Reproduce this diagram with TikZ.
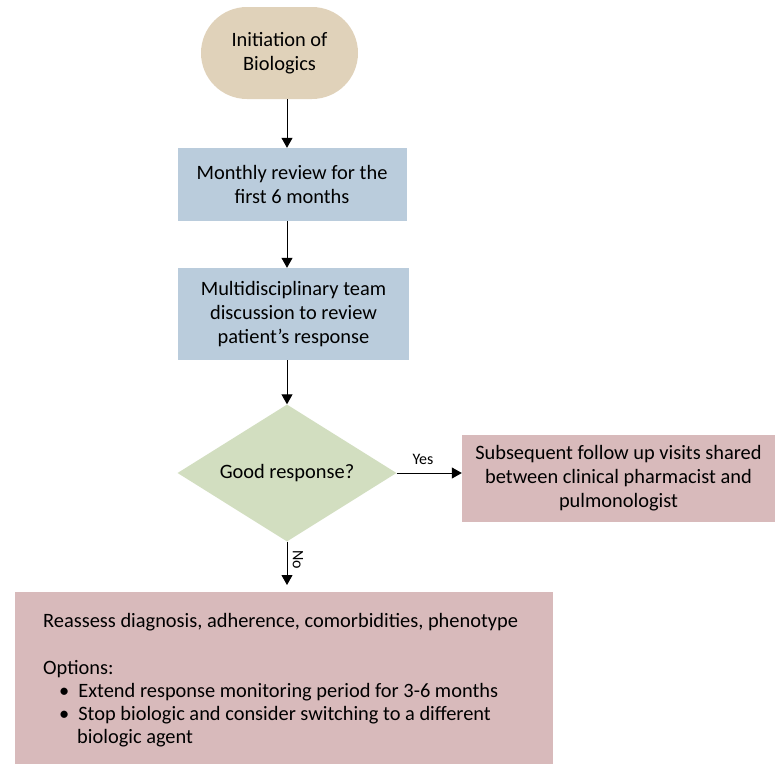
\documentclass[tikz,border=0pt]{standalone}
\usepackage{fontspec}
\setmainfont{Carlito}
\usetikzlibrary{shapes.geometric,arrows.meta,calc}
\definecolor{tanfill}{RGB}{224,210,186}
\definecolor{bluefill}{RGB}{186,204,220}
\definecolor{greenfill}{RGB}{210,222,192}
\definecolor{pinkfill}{RGB}{216,186,187}
\tikzset{
  boxtext/.style={font=\fontsize{20.4}{24}\selectfont, align=center, inner sep=0pt},
  startbox/.style={boxtext, fill=tanfill, rounded corners=46pt, minimum width=157pt, minimum height=92pt},
  bluebox/.style={boxtext, fill=bluefill},
  pinkbox/.style={boxtext, fill=pinkfill},
  decision/.style={boxtext, diamond, fill=greenfill, aspect=1.6, minimum width=219pt, minimum height=137pt, inner sep=0pt},
  arr/.style={draw=black, line width=1pt, -{Triangle[width=11pt,length=10pt]}},
  lbl/.style={font=\fontsize{16}{18}\selectfont, inner sep=0pt}
}
\begin{document}
\begin{tikzpicture}[x=1pt,y=-1pt]
\useasboundingbox (0,0) rectangle (777,764);
\node[startbox] (init) at (279.5,53) {Initiation of\\Biologics};
\node[bluebox, minimum width=229pt, minimum height=73pt] (month) at (292,184.5) {Monthly review for the\\first 6 months};
\node[bluebox, minimum width=231pt, minimum height=92pt] (mdt) at (293.5,314) {Multidisciplinary team\\discussion to review\\patient’s response};
\node[decision] (dec) at (287,473) {Good response?};
\node[pinkbox, minimum width=313pt, minimum height=87pt] (follow) at (618.5,478.5) {Subsequent follow up visits shared\\between clinical pharmacist and\\pulmonologist};
\node[pinkbox, anchor=north west, minimum width=538pt, minimum height=172pt] (reass) at (15,592) {};
\node[boxtext, anchor=west, align=left, font=\fontsize{20.4}{23}\selectfont] (reasstext) at ($(reass.west)+(28,2)$) {Reassess diagnosis, adherence, comorbidities, phenotype\\[24pt]
Options:\\
\hspace*{16pt}\textbullet\hspace{9pt}Extend response monitoring period for 3-6 months\\
\hspace*{16pt}\textbullet\hspace{9pt}Stop biologic and consider switching to a different\\
\hspace*{34pt}biologic agent};
\coordinate (ax) at (287,0);
\draw[arr] (init.south -| ax) -- (month.north -| ax);
\draw[arr] (month.south -| ax) -- (mdt.north -| ax);
\draw[arr] (mdt.south -| ax) -- (dec.north);
\draw[arr] (dec.east) -- (dec.east -| follow.west);
\node[lbl] (yes) at (423,459) {Yes};
\draw[arr, shorten >=7pt] (dec.south) -- (reass.north -| dec.south);
\node[lbl, rotate=-90] (no) at (298,560) {No};
\end{tikzpicture}
\end{document}
